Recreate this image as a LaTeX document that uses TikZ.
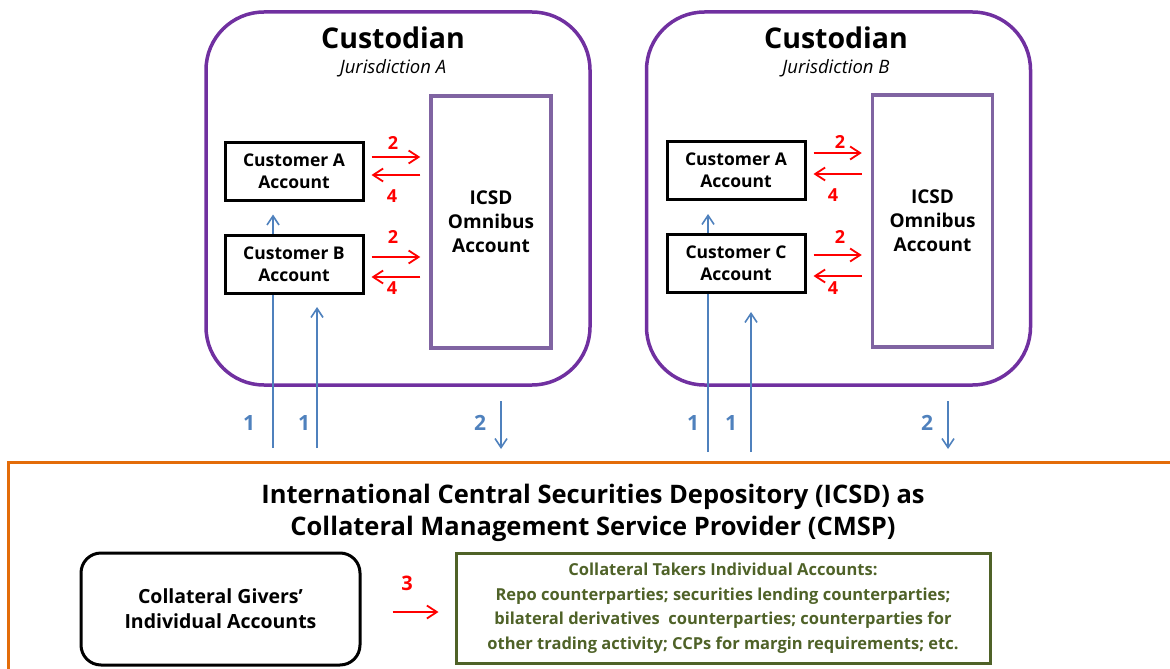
\documentclass[tikz,border=0pt]{standalone}
\usepackage{fontspec}
\setmainfont{Open Sans}
\usetikzlibrary{arrows.meta,calc}
\definecolor{cpurple}{HTML}{7030A0}
\definecolor{ipurple}{HTML}{8064A2}
\definecolor{cblue}{HTML}{4F81BD}
\definecolor{corange}{HTML}{E36C09}
\definecolor{cgreen}{HTML}{4F6228}
\tikzset{
 custbox/.style={draw=cpurple, line width=3.5pt, rounded corners=58pt, minimum width=384pt, minimum height=373pt},
 acct/.style={draw=black, line width=3pt, minimum width=138pt, minimum height=58pt, align=center, font=\fontsize{17.5}{22}\selectfont\bfseries, inner sep=0pt},
 icsd/.style={draw=ipurple, line width=3.5pt, minimum width=120pt, minimum height=252pt, align=center, font=\fontsize{19}{24}\selectfont\bfseries, inner sep=0pt},
 custtitle/.style={font=\fontsize{28.5}{30}\selectfont\bfseries, inner sep=0pt},
 jur/.style={font=\fontsize{18.5}{20}\selectfont\itshape, inner sep=0pt},
 redarr/.style={draw=red, line width=1.8pt, -{Straight Barb[length=10pt,width=13pt]}},
 redlbl/.style={text=red, font=\fontsize{18}{18}\selectfont\bfseries, inner sep=0pt},
 bluearr/.style={draw=cblue, line width=1.6pt, -{Straight Barb[length=9pt,width=12pt]}},
 blueln/.style={draw=cblue, line width=1.6pt},
 bluelbl/.style={text=cblue, font=\fontsize{21}{21}\selectfont\bfseries, inner sep=0pt},
}
\begin{document}
\begin{tikzpicture}[x=1pt,y=-1pt]
\useasboundingbox (0,0) rectangle (1170,669);
% ---------- Custodian A ----------
\node[custbox] (custA) at (398,198.5) {};
\node[custtitle] (ctA) at (393,38) {Custodian};
\node[jur] (jA) at (393,68) {Jurisdiction A};
\node[acct] (cusA) at (294,171) {Customer A\\Account};
\node[acct] (cusB) at (294,264) {Customer B\\Account};
\node[icsd] (icsdA) at (491,222) {ICSD\\Omnibus\\Account};
\draw[redarr] ($(cusA.east)+(7,-14)$) -- ($(icsdA.west|-cusA.east)+(-9,-14)$);
\draw[redarr] ($(icsdA.west|-cusA.east)+(-9,4)$) -- ($(cusA.east)+(7,4)$);
\draw[redarr] ($(cusB.east)+(7,-7)$) -- ($(icsdA.west|-cusB.east)+(-9,-7)$);
\draw[redarr] ($(icsdA.west|-cusB.east)+(-9,13)$) -- ($(cusB.east)+(7,13)$);
\node[redlbl] (rA1) at (393,143) {2};
\node[redlbl] (rA2) at (392,196) {4};
\node[redlbl] (rA3) at (393,237) {2};
\node[redlbl] (rA4) at (392,288) {4};
\draw[bluearr] ($(cusB.north)+(-21,0)$) -- ($(cusA.south)+(-21,13)$);
\coordinate (bA1) at (273,448);
\coordinate (bA2) at (317,448);
\coordinate (tA2) at (317,307);
\coordinate (bA3) at (501,401);
\coordinate (eA3) at (501,449);
\draw[blueln] (bA1) -- (bA1|-cusB.south);
\draw[bluearr] (bA2) -- (tA2);
\draw[bluearr] (bA3) -- (eA3);
\node[bluelbl] (lA1) at (249,423) {1};
\node[bluelbl] (lA2) at (304,423) {1};
\node[bluelbl] (lA3) at (480,423) {2};
% ---------- Custodian B ----------
\node[custbox] (custB) at (838.5,198.5) {};
\node[custtitle] (ctB) at (836,38) {Custodian};
\node[jur] (jB) at (836,68) {Jurisdiction B};
\node[acct] (cusA2) at (736,170.5) {Customer A\\Account};
\node[acct] (cusC) at (736,263) {Customer C\\Account};
\node[icsd] (icsdB) at (932.5,221) {ICSD\\Omnibus\\Account};
\draw[redarr] ($(cusA2.east)+(7,-17.5)$) -- ($(icsdB.west|-cusA2.east)+(-9,-17.5)$);
\draw[redarr] ($(icsdB.west|-cusA2.east)+(-9,3.5)$) -- ($(cusA2.east)+(7,3.5)$);
\draw[redarr] ($(cusC.east)+(7,-8)$) -- ($(icsdB.west|-cusC.east)+(-9,-8)$);
\draw[redarr] ($(icsdB.west|-cusC.east)+(-9,13)$) -- ($(cusC.east)+(7,13)$);
\node[redlbl] (rB1) at (840,142) {2};
\node[redlbl] (rB2) at (833,195) {4};
\node[redlbl] (rB3) at (840,237) {2};
\node[redlbl] (rB4) at (833,288) {4};
\draw[bluearr] ($(cusC.north)+(-28,0)$) -- ($(cusA2.south)+(-28,13)$);
\coordinate (bB1) at (708,452);
\coordinate (bB2) at (751,452);
\coordinate (tB2) at (751,312);
\coordinate (bB3) at (948,401);
\coordinate (eB3) at (948,449);
\draw[blueln] (bB1) -- (bB1|-cusC.south);
\draw[bluearr] (bB2) -- (tB2);
\draw[bluearr] (bB3) -- (eB3);
\node[bluelbl] (lB1) at (693,423) {1};
\node[bluelbl] (lB2) at (731,423) {1};
\node[bluelbl] (lB3) at (927,423) {2};
% ---------- ICSD as CMSP ----------
\draw[corange, line width=3pt] (8,672) -- (8,462) -- (1172,462);
\node[font=\fontsize{25.5}{32}\selectfont\bfseries, align=center, inner sep=0pt] (cmsp) at (593,513)
  {International Central Securities Depository (ICSD) as\\Collateral Management Service Provider (CMSP)};
\node[draw=black, line width=3pt, rounded corners=20pt, minimum width=279pt, minimum height=112pt,
  align=center, font=\fontsize{19.5}{25}\selectfont\bfseries] (givers) at (220.5,609)
  {Collateral Givers’\\Individual Accounts};
\node[draw=cgreen, line width=3pt, minimum width=534pt, minimum height=110pt, text=cgreen,
  align=center, font=\fontsize{16.5}{24.5}\selectfont\bfseries] (takers) at (723,608)
  {Collateral Takers Individual Accounts:\\Repo counterparties; securities lending counterparties;\\bilateral derivatives\ \ counterparties; counterparties for\\other trading activity; CCPs for margin requirements; etc.};
\draw[redarr] ($(givers.east)+(31,3)$) -- ($(takers.west|-givers.east)+(-16,3)$);
\node[redlbl, font=\fontsize{20}{20}\selectfont\bfseries] (r3) at (407,583) {3};
\end{tikzpicture}
\end{document}
